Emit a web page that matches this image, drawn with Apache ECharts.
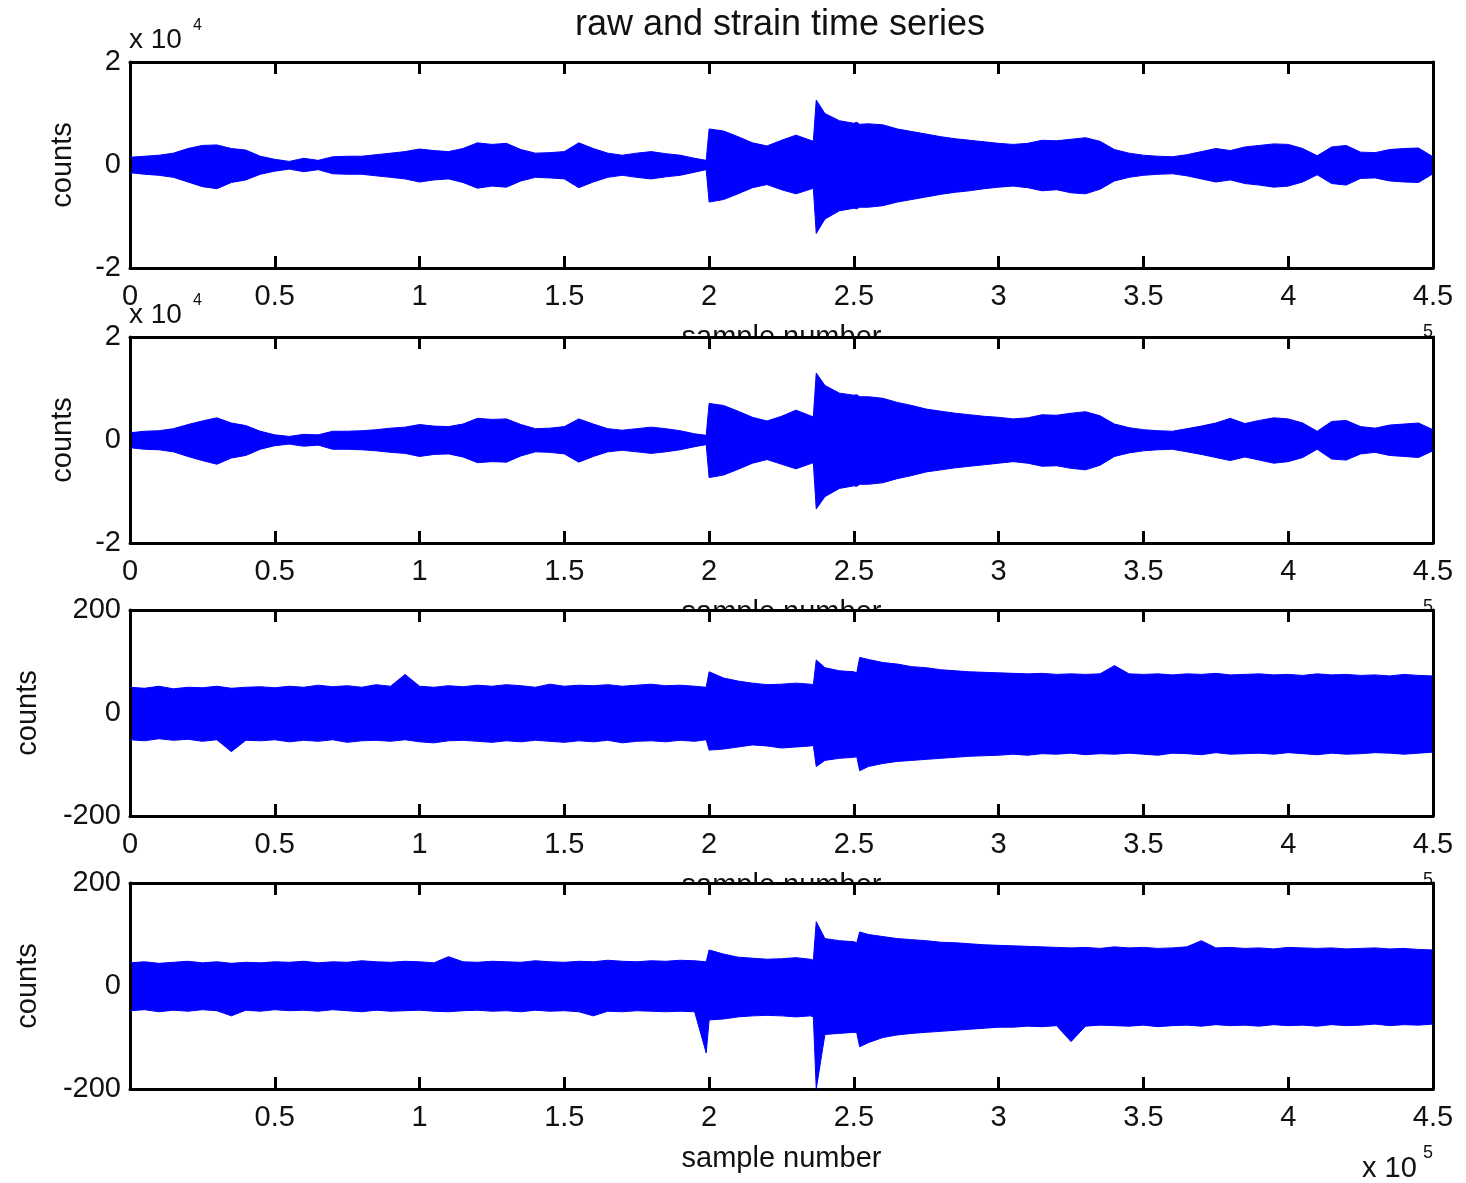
<!DOCTYPE html>
<html>
<head>
<meta charset="utf-8">
<title>raw and strain time series</title>
<script src="https://cdn.jsdelivr.net/npm/echarts@6/dist/echarts.min.js"></script>
<style>
  html, body { margin: 0; padding: 0; background: #fff; }
  #chart { width: 1466px; height: 1183px; }
</style>
</head>
<body>
<div id="chart"></div>
<script>
const sampleX = [
  0, 5000, 10000, 15000, 20000, 25000, 30000, 35000, 40000, 45000,
  50000, 55000, 60000, 65000, 70000, 75000, 80000, 85000, 90000, 95000,
  100000, 105000, 110000, 115000, 120000, 125000, 130000, 135000, 140000, 145000,
  150000, 155000, 160000, 165000, 170000, 175000, 180000, 185000, 190000, 195000,
  199000, 200000, 205000, 210000, 215000, 220000, 225000, 230000, 235000, 236000,
  237000, 240000, 245000, 250000, 251000, 252000, 255000, 260000, 265000, 270000,
  275000, 280000, 285000, 290000, 295000, 300000, 305000, 310000, 315000, 320000,
  325000, 330000, 335000, 340000, 345000, 350000, 355000, 360000, 365000, 370000,
  375000, 380000, 385000, 390000, 395000, 400000, 405000, 410000, 415000, 420000,
  425000, 430000, 435000, 440000, 445000, 450000
];

// panel 1 (raw), counts
const raw1Upper = [
  1500, 1700, 1900, 2300, 3200, 3800, 3900, 3200, 2900, 1700,
  1100, 700, 1300, 900, 1600, 1700, 1700, 2000, 2300, 2600,
  3100, 2800, 2600, 3200, 4300, 4000, 4200, 3000, 2300, 2400,
  2600, 4300, 3200, 2300, 1900, 2300, 2600, 2200, 1900, 1300,
  900, 7000, 6600, 5500, 4300, 3700, 4800, 5800, 4800, 4600,
  12600, 10000, 8600, 8100, 8300, 7900, 8000, 7800, 7000, 6500,
  6000, 5500, 5100, 4800, 4500, 4200, 4000, 4200, 4800, 4700,
  5000, 5300, 4600, 3000, 2300, 1900, 1700, 1600, 2000, 2600,
  3200, 2800, 3500, 3800, 4100, 4000, 3200, 1800, 3500, 3800,
  2500, 2400, 3000, 3200, 3300, 1600
];
const raw1Lower = [
  -1500, -1800, -2000, -2400, -3300, -4200, -4600, -3400, -2900, -1800,
  -1200, -800, -1300, -900, -1700, -1800, -1800, -2100, -2400, -2700,
  -3300, -2900, -2700, -3400, -4500, -4100, -4300, -3100, -2400, -2500,
  -2700, -4400, -3300, -2400, -2000, -2400, -2700, -2300, -2000, -1400,
  -900, -7200, -6700, -5600, -4400, -3800, -4800, -5600, -4700, -4500,
  -13300, -10500, -8900, -8400, -8500, -8200, -8200, -7900, -7200, -6700,
  -6200, -5700, -5300, -5000, -4600, -4300, -4100, -4400, -5000, -4800,
  -5400, -5600, -4700, -3100, -2400, -2000, -1800, -1700, -2100, -2700,
  -3300, -2900, -3600, -3900, -4300, -4100, -3300, -1900, -3600, -3900,
  -2600, -2500, -3100, -3300, -3400, -1700
];

// panel 2 (raw), counts
const raw2Upper = [
  1400, 1700, 1800, 2200, 3000, 3700, 4300, 3300, 2800, 1700,
  1000, 700, 1100, 1000, 1700, 1700, 1800, 2000, 2300, 2500,
  3000, 2700, 2600, 3100, 4200, 4000, 4100, 3000, 2200, 2300,
  2600, 4100, 3100, 2200, 1900, 2200, 2500, 2200, 1800, 1200,
  900, 7100, 6700, 5600, 4400, 3700, 4600, 5800, 4700, 4500,
  13000, 10600, 9100, 8700, 8800, 8400, 8400, 8100, 7300, 6700,
  6000, 5600, 5200, 4900, 4600, 4400, 4100, 4300, 4900, 4800,
  5200, 5500, 4700, 3100, 2400, 2000, 1800, 1700, 2200, 2700,
  3300, 4200, 3200, 3800, 4300, 4100, 3300, 1700, 3600, 3800,
  2600, 2300, 2900, 3100, 3300, 2000
];
const raw2Lower = [
  -1500, -1800, -1900, -2300, -3200, -4000, -4700, -3500, -3000, -1800,
  -1100, -800, -1200, -1000, -1800, -1800, -1900, -2100, -2400, -2600,
  -3200, -2800, -2700, -3300, -4400, -4200, -4300, -3100, -2300, -2400,
  -2700, -4300, -3200, -2300, -2000, -2300, -2600, -2300, -1900, -1300,
  -900, -7300, -6800, -5700, -4500, -3800, -4700, -5600, -4600, -4400,
  -13400, -11000, -9400, -8900, -9000, -8600, -8600, -8300, -7500, -6900,
  -6200, -5800, -5400, -5100, -4800, -4500, -4200, -4500, -5100, -5000,
  -5500, -5800, -4900, -3200, -2500, -2100, -1900, -1800, -2300, -2800,
  -3400, -4000, -3300, -3900, -4500, -4200, -3400, -1800, -3700, -3900,
  -2700, -2400, -3000, -3200, -3400, -2100
];

// panel 3 (strain), counts
const strain1Upper = [
  50, 48, 52, 47, 50, 49, 52, 48, 50, 51,
  49, 52, 50, 54, 51, 53, 50, 55, 52, 75,
  52, 50, 53, 51, 54, 52, 55, 53, 50, 56,
  52, 54, 53, 55, 52, 54, 56, 53, 54, 52,
  50, 80, 68, 62, 58, 55, 56, 58, 56, 55,
  103, 88, 82, 80, 78, 108, 104, 98, 95, 90,
  88, 84, 82, 80, 79, 78, 77, 76, 77, 75,
  76, 75, 76, 92, 76, 75, 76, 74, 76, 75,
  77, 74, 75, 76, 74, 75, 73, 76, 74, 75,
  73, 74, 72, 75, 73, 72
];
const strain1Lower = [
  -52, -54, -50, -53, -51, -55, -52, -75, -53, -54,
  -52, -56, -53, -55, -52, -57, -54, -53, -55, -52,
  -56, -58, -54, -53, -55, -57, -54, -56, -53, -55,
  -57, -54, -56, -53, -58, -55, -54, -56, -53, -55,
  -52, -72, -70, -66, -62, -64, -68, -66, -64, -63,
  -104, -92, -88, -86, -85, -112, -104, -98, -94, -92,
  -90, -88, -86, -84, -83, -82, -80, -82, -79, -80,
  -78, -81, -79, -80, -78, -80, -82, -78, -79, -81,
  -77, -80, -79, -78, -80, -77, -79, -81, -78, -80,
  -79, -77, -78, -80, -78, -76
];

// panel 4 (strain), counts
const strain2Upper = [
  45, 47, 44, 46, 48, 45, 47, 44, 46, 45,
  47, 46, 48, 45, 47, 46, 49, 47, 46, 48,
  47, 45, 57, 47, 46, 48, 47, 46, 49, 47,
  46, 48, 47, 50, 48, 47, 49, 48, 50, 49,
  47, 70, 62, 56, 54, 52, 53, 55, 52, 50,
  125, 92, 88, 86, 84, 105, 100, 96, 92, 90,
  88, 85, 84, 82, 80, 79, 78, 77, 76, 75,
  74, 75, 73, 76, 74, 75, 73, 74, 76, 88,
  74, 75, 73, 74, 72, 75, 74, 73, 74, 72,
  73, 74, 72, 73, 71, 70
];
const strain2Lower = [
  -48, -46, -50, -47, -49, -46, -48, -58, -47, -49,
  -46, -48, -47, -49, -46, -48, -50, -47, -49, -48,
  -47, -49, -50, -48, -47, -49, -48, -50, -47, -49,
  -48, -50, -58, -49, -50, -48, -49, -50, -49, -50,
  -130, -66, -64, -60, -58, -57, -58, -60, -58, -60,
  -200, -94, -92, -90, -91, -118, -110, -100, -95, -92,
  -90, -88, -86, -84, -82, -80, -80, -78, -79, -77,
  -108, -78, -76, -77, -78, -76, -79, -77, -76, -78,
  -75, -77, -76, -78, -75, -77, -76, -78, -75, -77,
  -76, -74, -77, -75, -76, -74
];

const panels = [
  { upper: raw1Upper, lower: raw1Lower, yMax: 20000, yDiv: 1e4, nameGap: 53 },
  { upper: raw2Upper, lower: raw2Lower, yMax: 20000, yDiv: 1e4, nameGap: 53 },
  { upper: strain1Upper, lower: strain1Lower, yMax: 200, yDiv: 1, nameGap: 88 },
  { upper: strain2Upper, lower: strain2Lower, yMax: 200, yDiv: 1, nameGap: 88 }
];

const gridTops = [62, 337, 610, 883];
const GRID_LEFT = 130;
const GRID_WIDTH = 1303;
const GRID_HEIGHT = 206;
const FONT = '"Liberation Sans", Arial, Helvetica, sans-serif';
const INK = '#111';
const BLUE = '#0000ff';

const chart = echarts.init(document.getElementById('chart'));

const grids = [];
const xAxes = [];
const yAxes = [];
const series = [];
const graphics = [];

const lineStyle = { color: '#000', width: 3 };
const labelStyle = { color: INK, fontSize: 29, fontFamily: FONT };

panels.forEach((p, i) => {
  const z = 2 * i + 2;
  const top = gridTops[i];
  const bottom = top + GRID_HEIGHT;

  // white panel background, covers what the panel above leaks into it
  grids.push({
    left: GRID_LEFT, top: top, width: GRID_WIDTH, height: GRID_HEIGHT,
    show: true, backgroundColor: '#fff', borderWidth: 0, z: z - 1
  });

  xAxes.push({
    type: 'value', gridIndex: i, position: 'bottom', z: z,
    min: 0, max: 450000, interval: 50000,
    axisLine: { show: true, onZero: false, lineStyle: lineStyle },
    axisTick: { show: true, inside: true, length: 12, lineStyle: lineStyle },
    axisLabel: Object.assign({
      margin: 14,
      showMinLabel: i !== 3,
      formatter: (v) => String(v / 100000)
    }, labelStyle),
    splitLine: { show: false },
    name: 'sample number', nameLocation: 'middle', nameGap: 55,
    nameTextStyle: labelStyle
  });
  xAxes.push({
    type: 'value', gridIndex: i, position: 'top', z: z,
    min: 0, max: 450000, interval: 50000,
    axisLine: { show: true, onZero: false, lineStyle: lineStyle },
    axisTick: { show: true, inside: true, length: 12, lineStyle: lineStyle },
    axisLabel: { show: false },
    splitLine: { show: false }
  });

  yAxes.push({
    type: 'value', gridIndex: i, position: 'left', z: z,
    min: -p.yMax, max: p.yMax, interval: p.yMax,
    axisLine: { show: true, onZero: false, lineStyle: lineStyle },
    axisTick: { show: false },
    axisLabel: Object.assign({
      margin: 9,
      formatter: (v) => String(v / p.yDiv)
    }, labelStyle),
    splitLine: { show: false },
    name: 'counts', nameLocation: 'middle', nameGap: p.nameGap,
    nameTextStyle: labelStyle
  });
  yAxes.push({
    type: 'value', gridIndex: i, position: 'right', z: z,
    min: -p.yMax, max: p.yMax, interval: p.yMax,
    axisLine: { show: true, onZero: false, lineStyle: lineStyle },
    axisTick: { show: false },
    axisLabel: { show: false },
    splitLine: { show: false }
  });

  [p.upper, p.lower].forEach((vals) => {
    series.push({
      type: 'line', xAxisIndex: 2 * i, yAxisIndex: 2 * i, z: z,
      data: sampleX.map((x, k) => [x, vals[k]]),
      symbol: 'none', silent: true,
      lineStyle: { color: BLUE, width: 1 },
      areaStyle: { color: BLUE, opacity: 1, origin: 'auto' }
    });
  });

  // y multiplier above the raw panels
  if (p.yDiv !== 1) {
    graphics.push({
      type: 'text', x: 129, y: top - 22, z: z,
      style: { text: 'x 10', fill: INK, font: '28px ' + FONT, textAlign: 'left', textVerticalAlign: 'middle' }
    });
    graphics.push({
      type: 'text', x: 193, y: top - 36, z: z,
      style: { text: '4', fill: INK, font: '16px ' + FONT, textAlign: 'left', textVerticalAlign: 'middle' }
    });
  }
  // x multiplier below every panel (only the last one is fully visible)
  graphics.push({
    type: 'text', x: 1362, y: bottom + 80, z: z,
    style: { text: 'x 10', fill: INK, font: '29px ' + FONT, textAlign: 'left', textVerticalAlign: 'middle' }
  });
  graphics.push({
    type: 'text', x: 1423, y: bottom + 64, z: z,
    style: { text: '5', fill: INK, font: '18px ' + FONT, textAlign: 'left', textVerticalAlign: 'middle' }
  });
});

const option = {
  animation: false,
  backgroundColor: '#fff',
  title: {
    text: 'raw and strain time series',
    left: 780, top: 7, padding: 0, textAlign: 'center', z: 20,
    textStyle: { color: INK, fontSize: 36, fontWeight: 'normal', fontFamily: FONT }
  },
  grid: grids,
  xAxis: xAxes,
  yAxis: yAxes,
  series: series,
  graphic: graphics
};

option && chart.setOption(option);
</script>
</body>
</html>
